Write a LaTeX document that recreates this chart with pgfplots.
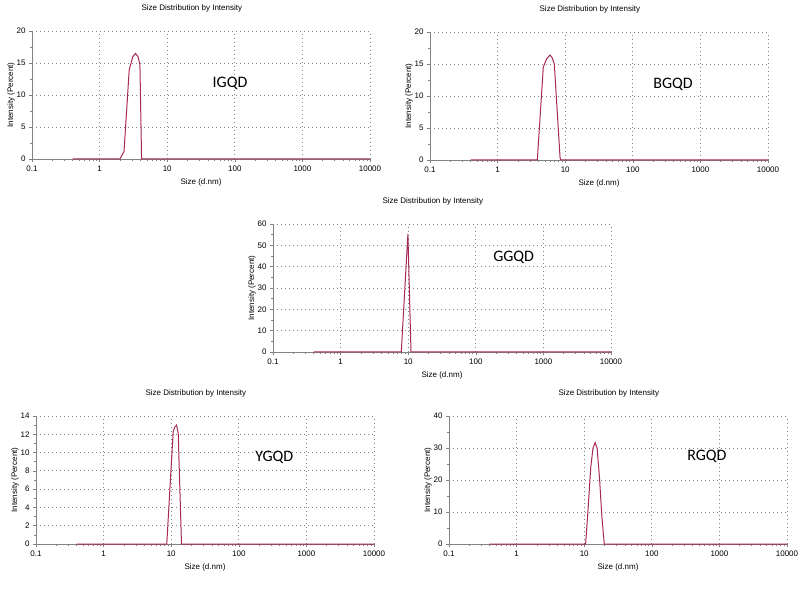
\documentclass[border=0pt]{standalone}
\usepackage{pgfplots}
\pgfplotsset{compat=1.18}
\usepackage{fontspec}
\setmainfont{Liberation Sans}
\newfontfamily\carlito{Carlito}
\definecolor{dls}{RGB}{165,40,90}
\definecolor{axgray}{RGB}{130,130,130}
\newcommand{\smallfont}{\fontsize{8}{9}\selectfont}
\newcommand{\bigfont}{\carlito\fontsize{16}{16}\selectfont}
\pgfplotsset{
  every axis x label/.style={at={(axis description cs:0.5,-0.18)}, anchor=center, font=\smallfont},
  every axis y label/.style={at={(axis description cs:-0.062,0.5)}, rotate=90, anchor=center, font=\smallfont},
  every axis title/.style={at={(axis description cs:0.473,1.18)}, anchor=center, font=\smallfont},
}
\begin{document}
\begin{tikzpicture}
% IGQD
\begin{semilogxaxis}[at={(32pt,433pt)}, anchor=south west, clip=false,
  scale only axis, width=338pt, height=128pt,
  xmin=0.1, xmax=10000, ymin=0, ymax=20,
  xtick={0.1,1,10,100,1000,10000}, xticklabels={0.1,1,10,100,1000,10000},
  ytick={0,5,10,15,20}, yticklabels={0,5,10,15,20},
  axis x line*=bottom, axis y line*=left,
  axis line style={draw=axgray, line width=0.9pt},
  xmajorgrids, ymajorgrids, major grid style={draw=axgray, dash pattern=on 0.9pt off 3.1pt, line width=0.9pt},
  every tick/.style={draw=axgray, line width=0.6pt},
  tick align=outside, major tick length=3pt, minor tick length=2pt,
  minor y tick num=1, ticklabel style={font=\smallfont},
  xlabel={Size (d.nm)}, ylabel={Intensity (Percent)},
  title={Size Distribution by Intensity}]
\addplot[draw=dls, line width=1pt, mark=none] coordinates {(0.4,0)(2.0,0)(2.3,1.2)(2.74,13.9)(3.1,16.0)(3.4,16.5)(3.7,16.0)(3.95,14.7)(4.18,0)(10000,0)};
\node[font=\bigfont] at (rel axis cs:0.586,0.59) {IGQD};
\end{semilogxaxis}
% BGQD
\begin{semilogxaxis}[at={(430pt,432pt)}, anchor=south west, clip=false,
  scale only axis, width=338pt, height=128pt,
  xmin=0.1, xmax=10000, ymin=0, ymax=20,
  xtick={0.1,1,10,100,1000,10000}, xticklabels={0.1,1,10,100,1000,10000},
  ytick={0,5,10,15,20}, yticklabels={0,5,10,15,20},
  axis x line*=bottom, axis y line*=left,
  axis line style={draw=axgray, line width=0.9pt},
  xmajorgrids, ymajorgrids, major grid style={draw=axgray, dash pattern=on 0.9pt off 3.1pt, line width=0.9pt},
  every tick/.style={draw=axgray, line width=0.6pt},
  tick align=outside, major tick length=3pt, minor tick length=2pt,
  minor y tick num=1, ticklabel style={font=\smallfont},
  xlabel={Size (d.nm)}, ylabel={Intensity (Percent)},
  title={Size Distribution by Intensity}]
\addplot[draw=dls, line width=1pt, mark=none] coordinates {(0.4,0)(3.87,0)(4.74,14.5)(5.3,15.8)(5.96,16.4)(6.4,16.0)(6.9,15.0)(8.4,0.3)(8.6,0)(10000,0)};
\node[font=\bigfont] at (rel axis cs:0.719,0.59) {BGQD};
\end{semilogxaxis}
% GGQD
\begin{semilogxaxis}[at={(273pt,240pt)}, anchor=south west, clip=false,
  scale only axis, width=338pt, height=128pt,
  xmin=0.1, xmax=10000, ymin=0, ymax=60,
  xtick={0.1,1,10,100,1000,10000}, xticklabels={0.1,1,10,100,1000,10000},
  ytick={0,10,20,30,40,50,60}, yticklabels={0,10,20,30,40,50,60},
  axis x line*=bottom, axis y line*=left,
  axis line style={draw=axgray, line width=0.9pt},
  xmajorgrids, ymajorgrids, major grid style={draw=axgray, dash pattern=on 0.9pt off 3.1pt, line width=0.9pt},
  every tick/.style={draw=axgray, line width=0.6pt},
  tick align=outside, major tick length=3pt, minor tick length=2pt,
  minor y tick num=1, ticklabel style={font=\smallfont},
  xlabel={Size (d.nm)}, ylabel={Intensity (Percent)},
  title={Size Distribution by Intensity}]
\addplot[draw=dls, line width=1pt, mark=none] coordinates {(0.4,0)(7.9,0)(9.9,55.3)(11.0,0)(10000,0)};
\node[font=\bigfont] at (rel axis cs:0.712,0.736) {GGQD};
\end{semilogxaxis}
% YGQD
\begin{semilogxaxis}[at={(36pt,48pt)}, anchor=south west, clip=false,
  scale only axis, width=338pt, height=128pt,
  xmin=0.1, xmax=10000, ymin=0, ymax=14,
  xtick={0.1,1,10,100,1000,10000}, xticklabels={0.1,1,10,100,1000,10000},
  ytick={0,2,4,6,8,10,12,14}, yticklabels={0,2,4,6,8,10,12,14},
  axis x line*=bottom, axis y line*=left,
  axis line style={draw=axgray, line width=0.9pt},
  xmajorgrids, ymajorgrids, major grid style={draw=axgray, dash pattern=on 0.9pt off 3.1pt, line width=0.9pt},
  every tick/.style={draw=axgray, line width=0.6pt},
  tick align=outside, major tick length=3pt, minor tick length=2pt,
  minor y tick num=1, ticklabel style={font=\smallfont},
  xlabel={Size (d.nm)}, ylabel={Intensity (Percent)},
  title={Size Distribution by Intensity}]
\addplot[draw=dls, line width=1pt, mark=none] coordinates {(0.4,0)(8.6,0)(10.7,12.3)(11.3,12.8)(12.0,13.0)(12.7,12.1)(14.2,0)(10000,0)};
\node[font=\bigfont] at (rel axis cs:0.705,0.68) {YGQD};
\end{semilogxaxis}
% RGQD
\begin{semilogxaxis}[at={(449pt,48pt)}, anchor=south west, clip=false,
  scale only axis, width=338pt, height=128pt,
  xmin=0.1, xmax=10000, ymin=0, ymax=40,
  xtick={0.1,1,10,100,1000,10000}, xticklabels={0.1,1,10,100,1000,10000},
  ytick={0,10,20,30,40}, yticklabels={0,10,20,30,40},
  axis x line*=bottom, axis y line*=left,
  axis line style={draw=axgray, line width=0.9pt},
  xmajorgrids, ymajorgrids, major grid style={draw=axgray, dash pattern=on 0.9pt off 3.1pt, line width=0.9pt},
  every tick/.style={draw=axgray, line width=0.6pt},
  tick align=outside, major tick length=3pt, minor tick length=2pt,
  minor y tick num=1, ticklabel style={font=\smallfont},
  xlabel={Size (d.nm)}, ylabel={Intensity (Percent)},
  title={Size Distribution by Intensity}]
\addplot[draw=dls, line width=1pt, mark=none] coordinates {(0.4,0)(10.5,0)(11.5,12)(12.5,24)(13.5,30)(14.5,31.7)(15.5,30)(16.8,21)(18.2,9)(19.8,0)(10000,0)};
\node[font=\bigfont] at (rel axis cs:0.763,0.685) {RGQD};
\end{semilogxaxis}
\pgfresetboundingbox
\useasboundingbox (0pt,0pt) rectangle (803pt,592pt);
\end{tikzpicture}
\end{document}
